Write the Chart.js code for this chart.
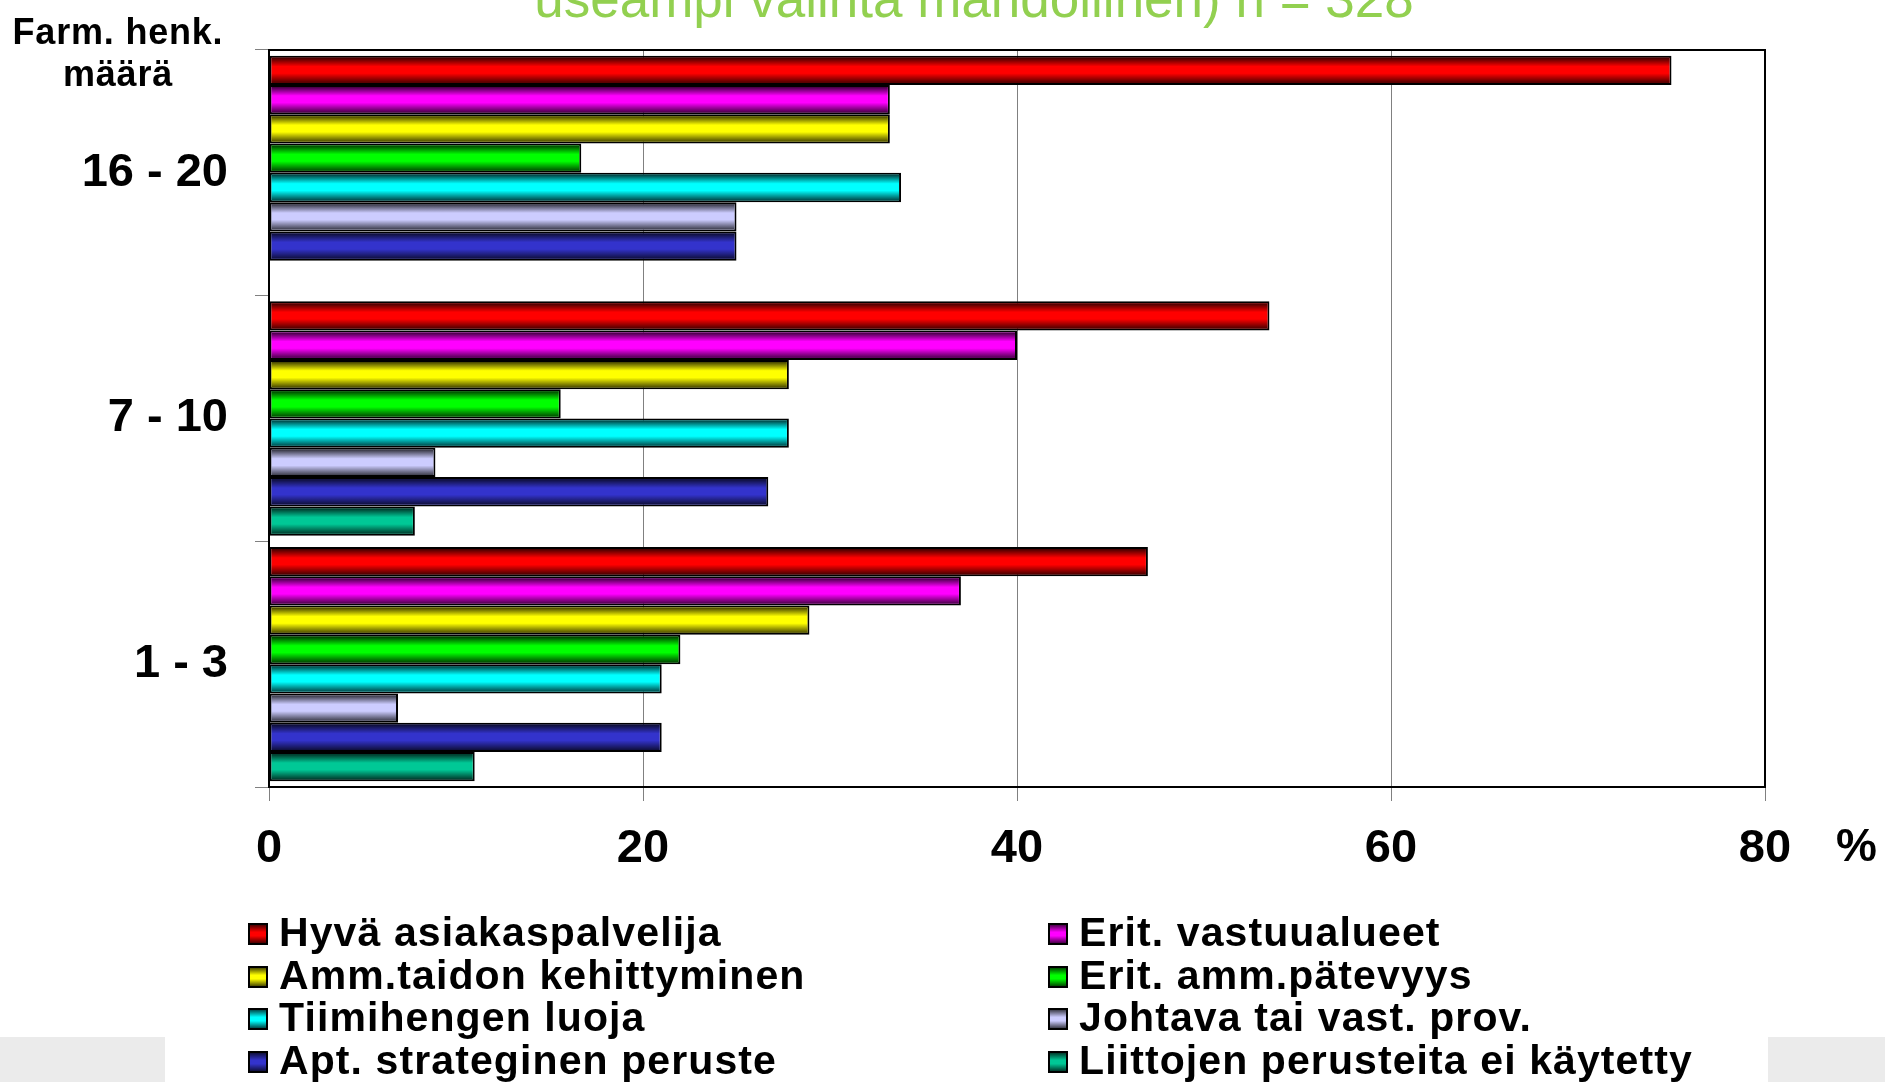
<!DOCTYPE html>
<html>
<head>
<meta charset="utf-8">
<script src="https://cdn.jsdelivr.net/npm/chart.js@4.4.1/dist/chart.umd.min.js"></script>
<style>
  html, body { margin: 0; padding: 0; background: #fff; }
  #wrap { position: relative; width: 1885px; height: 1082px; overflow: hidden; font-family: "Liberation Sans", Arial, sans-serif; }
  #chart { position: absolute; left: 0; top: 0; }
  .grey { position: absolute; background: #ebebeb; top: 1037px; height: 45px; }
  #title { position: absolute; left: 0; width: 1948px; top: -28px; text-align: center; font-size: 53px; line-height: 53px; color: #92d050; white-space: nowrap; }
  #ylab { position: absolute; left: 0; width: 236px; top: 11px; text-align: center; font-size: 36px; line-height: 42px; font-weight: bold; letter-spacing: 0.8px; }
  #pct { position: absolute; left: 1836px; top: 822px; font-size: 46px; line-height: 46px; font-weight: bold; }
  .item { position: absolute; font-size: 41px; line-height: 42.7px; font-weight: bold; letter-spacing: 1.1px; white-space: nowrap; }
  .item .box { position: absolute; width: 16px; height: 18px; top: 12px; border: 2px solid #000; }
</style>
</head>
<body>
<div id="wrap">
  <canvas id="chart" width="1885" height="1082"></canvas>
  <div class="grey" style="left:0;width:165px"></div>
  <div class="grey" style="left:1768px;width:117px"></div>
  <div id="title">useampi valinta mahdollinen) n = 328</div>
  <div id="ylab">Farm. henk.<br>määrä</div>
  <div id="pct">%</div>
  <div id="legend"></div>
</div>
<script>
// groups (top to bottom)
var categories = ['16 - 20', '7 - 10', '1 - 3'];

var seriesNames = [
	'Hyvä asiakaspalvelija',
	'Erit. vastuualueet',
	'Amm.taidon kehittyminen',
	'Erit. amm.pätevyys',
	'Tiimihengen luoja',
	'Johtava tai vast. prov.',
	'Apt. strateginen peruste',
	'Liittojen perusteita ei käytetty'
];
var seriesColours = ['#ff0000', '#ff00ff', '#ffff00', '#00ff00', '#00ffff', '#ccccff', '#3333cc', '#00c896'];

// % values per group
var hyva = [75.0, 53.5, 47.0];
var eritVastuu = [33.2, 40.0, 37.0];
var ammTaidon = [33.2, 27.8, 28.9];
var eritAmm = [16.7, 15.6, 22.0];
var tiimi = [33.8, 27.8, 21.0];
var johtava = [25.0, 8.9, 6.9];
var apt = [25.0, 26.7, 21.0];
var liitto = [0, 7.8, 11.0];

var xMin = 0, xMax = 80, xStep = 20;

var seriesValues = [hyva, eritVastuu, ammTaidon, eritAmm, tiimi, johtava, apt, liitto];

var datasets = [];
for (var i = 0; i < seriesNames.length; i++) {
	datasets.push({
		label: seriesNames[i],
		data: seriesValues[i],
		backgroundColor: seriesColours[i],
		borderColor: '#000',
		borderWidth: 2,
		borderSkipped: false,
		categoryPercentage: 0.954,
		barPercentage: 1.0
	});
}

// dark top/bottom shading on each bar, like the old 3d office bars
var shadePlugin = {
	id: 'shade',
	afterDatasetsDraw: function(chart) {
		var ctx = chart.ctx;
		chart.data.datasets.forEach(function(ds, di) {
			chart.getDatasetMeta(di).data.forEach(function(bar) {
				var p = bar.getProps(['x', 'y', 'base', 'height'], true);
				var l = Math.min(p.x, p.base) + 2, r = Math.max(p.x, p.base) - 2;
				var t = p.y - p.height / 2 + 2, b = p.y + p.height / 2 - 2;
				if (r <= l) return;
				var g = ctx.createLinearGradient(0, t, 0, b);
				g.addColorStop(0, 'rgba(0,0,0,0.75)');
				g.addColorStop(0.35, 'rgba(0,0,0,0)');
				g.addColorStop(0.62, 'rgba(0,0,0,0)');
				g.addColorStop(1, 'rgba(0,0,0,0.7)');
				ctx.save();
				ctx.fillStyle = g;
				ctx.fillRect(l, t, r - l, b - t);
				ctx.restore();
			});
		});
	}
};

var framePlugin = {
	id: 'frame',
	afterDraw: function(chart) {
		var a = chart.chartArea, ctx = chart.ctx;
		ctx.save();
		ctx.strokeStyle = '#000';
		ctx.lineWidth = 2;
		ctx.beginPath();
		ctx.moveTo(a.left, a.top);
		ctx.lineTo(a.right, a.top);
		ctx.lineTo(a.right, a.bottom);
		ctx.stroke();
		ctx.restore();
	}
};

var config = {
	type: 'bar',
	data: { labels: categories, datasets: datasets },
	options: {
		indexAxis: 'y',
		responsive: false,
		animation: false,
		devicePixelRatio: 1,
		layout: { padding: { top: 50, right: 120, left: 0, bottom: 0 } },
		plugins: { legend: { display: false }, title: { display: false }, tooltip: { enabled: false } },
		scales: {
			x: {
				min: xMin, max: xMax,
				ticks: { stepSize: xStep, color: '#000', padding: 20,
					font: { family: 'Liberation Sans', size: 47, weight: 'bold' } },
				grid: { color: '#808080', lineWidth: 1, drawTicks: true, tickLength: 14 },
				border: { display: true, color: '#000', width: 2 },
				afterFit: function(s) { s.height = 1082 - 787; s.paddingLeft = 0; s.paddingRight = 0; }
			},
			y: {
				ticks: { color: '#000', padding: 27,
					font: { family: 'Liberation Sans', size: 47, weight: 'bold' } },
				grid: { color: '#808080', drawOnChartArea: false, drawTicks: true, tickLength: 14 },
				border: { display: true, color: '#000', width: 2 },
				afterFit: function(s) { s.width = 269; s.paddingTop = 0; s.paddingBottom = 0; }
			}
		}
	},
	plugins: [shadePlugin, framePlugin]
};

var ctx = document.getElementById('chart').getContext('2d');
window.myBar = new Chart(ctx, config);

// legend, two columns, row-major like the original
var legendHtml = '';
var colX = [248, 1048];
var rowTop = 911, rowPitch = 42.7;
for (var k = 0; k < seriesNames.length; k++) {
	var col = k % 2, row = Math.floor(k / 2);
	legendHtml += '<div class="item" style="left:' + colX[col] + 'px;top:' + (rowTop + row * rowPitch) + 'px">'
		+ '<span class="box" style="left:0;background:linear-gradient(to bottom, rgba(0,0,0,.7), rgba(0,0,0,0) 40%, rgba(0,0,0,0) 60%, rgba(0,0,0,.7)),' + seriesColours[k] + '"></span>'
		+ '<span style="margin-left:31px">' + seriesNames[k] + '</span></div>';
}
document.getElementById('legend').innerHTML = legendHtml;
</script>
</body>
</html>
